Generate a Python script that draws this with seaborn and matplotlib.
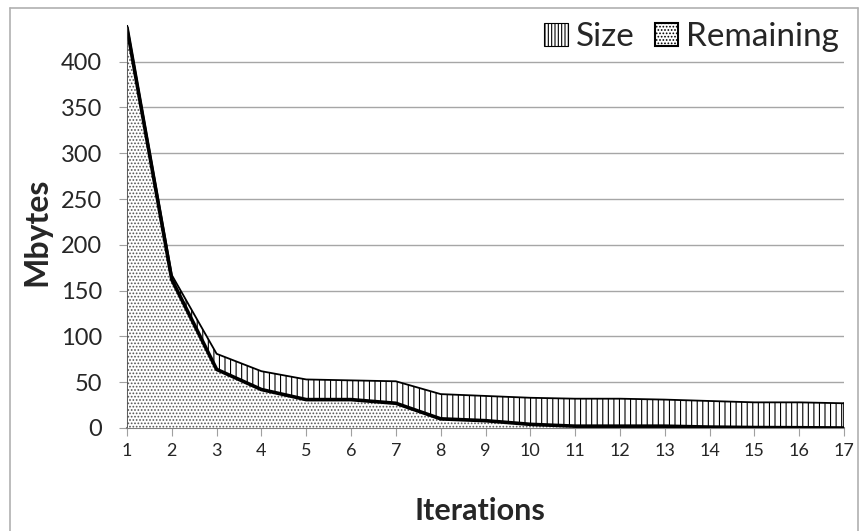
import matplotlib
matplotlib.use("Agg")
import matplotlib.pyplot as plt
from matplotlib.patches import Patch
from matplotlib.lines import Line2D
import seaborn as sns

iterations = list(range(1, 18))
size_mb = [440, 167, 81, 62, 53, 52, 51, 37, 35, 33, 32, 32, 31, 29.5, 28, 28, 27]
remaining_mb = [437, 162, 64, 42, 31, 31, 27, 10, 8, 4, 2, 2, 2, 1, 0.5, 0.3, 0]
y_ticks = [0, 50, 100, 150, 200, 250, 300, 350, 400]

sns.set_style("white")
plt.rcParams['font.family'] = ['Lato', 'DejaVu Sans']
plt.rcParams['hatch.linewidth'] = 0.8

fig = plt.figure(figsize=(8.64, 5.31), dpi=100)
ax = fig.add_axes([127 / 864, 1 - 428 / 531, (844 - 127) / 864, (428 - 25) / 531])

# areas: Size behind, Remaining in front
ax.fill_between(iterations, 0, size_mb, facecolor='white', edgecolor='black',
                hatch='|||', linewidth=0, zorder=2)
ax.fill_between(iterations, 0, remaining_mb, facecolor='white', edgecolor='#555555',
                hatch='.....', linewidth=0, zorder=3)
sns.lineplot(x=iterations, y=size_mb, color='black', linewidth=1.3, ax=ax, zorder=4)
sns.lineplot(x=iterations, y=remaining_mb, color='black', linewidth=2.6, ax=ax, zorder=5)
ax.plot([iterations[-1], iterations[-1]], [0, size_mb[-1]], color='black', lw=1.2, zorder=4)
ax.plot([iterations[0], iterations[0]], [0, remaining_mb[0]], color='#444444', lw=1.2, zorder=5)

ax.set_xlim(1, 17)
ax.set_ylim(0, 440)
ax.set_xticks(iterations)
ax.set_yticks(y_ticks)
ax.tick_params(axis='x', labelsize=13, length=6, color='#a0a0a0', direction='out',
               bottom=True, pad=5)
ax.tick_params(axis='y', labelsize=17, length=6, color='#a0a0a0', direction='out',
               left=True, pad=12)
ax.yaxis.grid(True, color='#a6a6a6', linewidth=1)
ax.set_axisbelow(True)
for s in ['top', 'right']:
    ax.spines[s].set_visible(False)
ax.spines['left'].set_color('#a0a0a0')
ax.spines['bottom'].set_color('#808080')
ax.spines['bottom'].set_linewidth(1.5)

ax.set_xlabel('Iterations', fontsize=22, fontweight='bold')
ax.xaxis.set_label_coords(0.492, -0.172)
ax.set_ylabel('Mbytes', fontsize=23, fontweight='bold')
ax.yaxis.set_label_coords(-0.105, 0.486)

handles = [Patch(facecolor='white', edgecolor='black', hatch='|||||', linewidth=0.8),
           Patch(facecolor='white', edgecolor='black', hatch='.....', linewidth=1.5)]
ax.legend(handles, ['Size', 'Remaining'], loc='upper right', bbox_to_anchor=(1.012, 1.04),
          ncol=2, frameon=False, fontsize=24, handlelength=0.7, handleheight=0.7,
          handletextpad=0.25, columnspacing=0.6, borderaxespad=0)

# outer chart border
border = [Line2D([10 / 864, 10 / 864], [0, 1 - 8 / 531]),
          Line2D([10 / 864, 858 / 864], [1 - 8 / 531, 1 - 8 / 531]),
          Line2D([858 / 864, 858 / 864], [0, 1 - 8 / 531])]
for ln in border:
    ln.set_color('#b0b0b0')
    ln.set_linewidth(1.2)
    ln.set_transform(fig.transFigure)
    fig.add_artist(ln)

fig.savefig('out.png', dpi=100)
